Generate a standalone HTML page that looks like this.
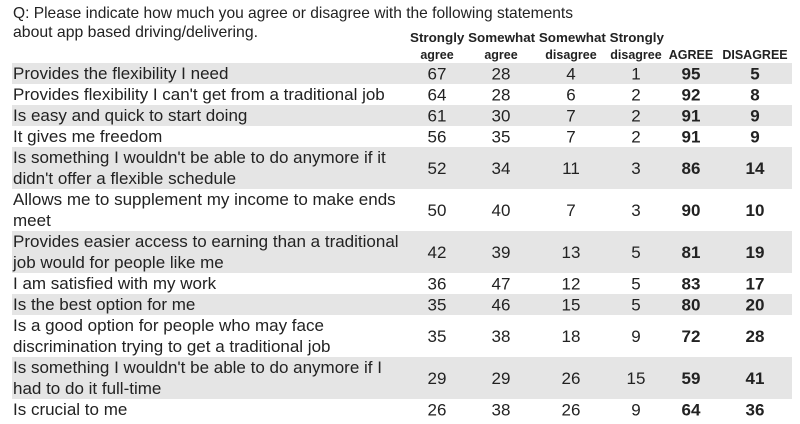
<!DOCTYPE html>
<html><head><meta charset="utf-8">
<style>
html,body{margin:0;padding:0;background:#fff;}
svg{display:block;}
text{font-family:"Liberation Sans",Arial,sans-serif;fill:#222;}
</style></head>
<body>
<svg id="t" width="800" height="424" viewBox="0 0 800 424">
  <text x="13" y="18" font-size="16" textLength="560" lengthAdjust="spacingAndGlyphs">Q: Please indicate how much you agree or disagree with the following statements</text>
  <text x="13" y="37" font-size="16" textLength="245" lengthAdjust="spacingAndGlyphs">about app based driving/delivering.</text>
  <g font-size="12.5" font-weight="bold">
    <text x="410" y="42" textLength="254" lengthAdjust="spacingAndGlyphs">Strongly Somewhat Somewhat Strongly</text>
  </g>
  <g id="rows"></g>
</svg>
<script>
const labels = [
 ["Provides the flexibility I need"],
 ["Provides flexibility I can't get from a traditional job"],
 ["Is easy and quick to start doing"],
 ["It gives me freedom"],
 ["Is something I wouldn't be able to do anymore if it","didn't offer a flexible schedule"],
 ["Allows me to supplement my income to make ends","meet"],
 ["Provides easier access to earning than a traditional","job would for people like me"],
 ["I am satisfied with my work"],
 ["Is the best option for me"],
 ["Is a good option for people who may face","discrimination trying to get a traditional job"],
 ["Is something I wouldn't be able to do anymore if I","had to do it full-time"],
 ["Is crucial to me"]
];
const stronglyAgree = [67,64,61,56,52,50,42,36,35,35,29,26];
const somewhatAgree = [28,28,30,35,34,40,39,47,46,38,29,38];
const somewhatDisagree = [4,6,7,7,11,7,13,12,15,18,26,26];
const stronglyDisagree = [1,2,2,2,3,3,5,5,5,9,15,9];
const agreeTotal = [95,92,91,91,86,90,81,83,80,72,59,64];
const disagreeTotal = [5,8,9,9,14,10,19,17,20,28,41,36];
const headers2 = ["agree","agree","disagree","disagree","AGREE","DISAGREE"];

const NS="http://www.w3.org/2000/svg";
const svg=document.getElementById('t');
const g=document.getElementById('rows');
const colX=[437,501,571,636,691,755];
const cols=[stronglyAgree,somewhatAgree,somewhatDisagree,stronglyDisagree,agreeTotal,disagreeTotal];
const colNames=['strongly-agree','somewhat-agree','somewhat-disagree','strongly-disagree','agree-total','disagree-total'];
headers2.forEach((h,i)=>{
  const t=document.createElementNS(NS,'text');
  
  
  t.setAttribute('x',colX[i]);t.setAttribute('y',59);
  t.setAttribute('text-anchor','middle');t.setAttribute('font-size','12.5');t.setAttribute('font-weight','bold');
  t.textContent=h;svg.insertBefore(t,g);
});
const single=21, dbl=42;
let y=63;
labels.forEach((lab,r)=>{
  const h= lab.length>1?dbl:single;
  const row=document.createElementNS(NS,'g');
  
  
  if(r%2===0){
    const bg=document.createElementNS(NS,'rect');
    
    
    bg.setAttribute('x',12);bg.setAttribute('y',y);bg.setAttribute('width',780);bg.setAttribute('height',h);
    bg.setAttribute('fill','#e5e5e5');row.appendChild(bg);
  }
  lab.forEach((line,k)=>{
    const t=document.createElementNS(NS,'text');
    
    
    t.setAttribute('x',13);
    t.setAttribute('y', y+16+k*21);
    t.setAttribute('font-size','17');
    t.textContent=line;row.appendChild(t);
  });
  const cy=y+h/2+6;
  cols.forEach((c,i)=>{
    const t=document.createElementNS(NS,'text');
    
    
    t.setAttribute('x',colX[i]);t.setAttribute('y',cy);
    t.setAttribute('text-anchor','middle');t.setAttribute('font-size','17');
    if(i>=4)t.setAttribute('font-weight','bold');
    t.textContent=c[r];row.appendChild(t);
  });
  g.appendChild(row);
  y+=h;
});
</script>
</body></html>
